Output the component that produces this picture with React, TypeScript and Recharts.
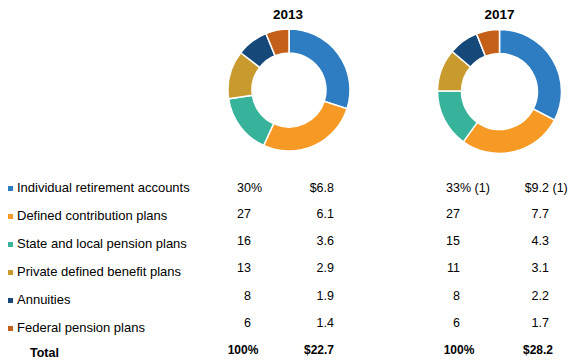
import { Pie, PieChart, Cell } from 'recharts'

const categories = [
  'Individual retirement accounts',
  'Defined contribution plans',
  'State and local pension plans',
  'Private defined benefit plans',
  'Annuities',
  'Federal pension plans',
]
const colors = ['#2E7DC2', '#F79A25', '#37B39B', '#C99A2E', '#16497A', '#C5601A']

const pct2013 = [30, 27, 16, 13, 8, 6]
const usd2013 = [6.8, 6.1, 3.6, 2.9, 1.9, 1.4]
const pct2017 = [33, 27, 15, 11, 8, 6]
const usd2017 = [9.2, 7.7, 4.3, 3.1, 2.2, 1.7]
const notes2017 = [' (1)', '', '', '', '', '']
const totals = { pct: '100%', usd2013: '$22.7', usd2017: '$28.2' }

const data2013 = categories.map((name, i) => ({ name, value: usd2013[i] }))
const data2017 = categories.map((name, i) => ({ name, value: usd2017[i] }))

// baselines for the table rows
const labelY = [192, 220, 248, 276, 304, 332]
const numY = [192, 218, 245, 272, 300, 327]
const font = 'Arial, "Liberation Sans", sans-serif'

const Table = () => (
  <g fontFamily={font} fill="#000">
    {categories.map((c, i) => (
      <g key={c}>
        <rect x={8} y={labelY[i] - 6} width={5} height={5} fill={colors[i]} />
        <text x={17} y={labelY[i]} fontSize={13}>{c}</text>
        <text x={251} y={numY[i]} fontSize={12.5} textAnchor="end">{pct2013[i]}</text>
        {i === 0 && <text x={251} y={numY[i]} fontSize={12.5}>%</text>}
        <text x={334} y={numY[i]} fontSize={12.5} textAnchor="end">
          {(i === 0 ? '$' : '') + usd2013[i].toFixed(1)}
        </text>
        <text x={460} y={numY[i]} fontSize={12.5} textAnchor="end">{pct2017[i]}</text>
        {i === 0 && <text x={460} y={numY[i]} fontSize={12.5}>{'%' + notes2017[i]}</text>}
        <text x={549} y={numY[i]} fontSize={12.5} textAnchor="end">
          {(i === 0 ? '$' : '') + usd2017[i].toFixed(1)}
        </text>
        {notes2017[i] && (
          <text x={549} y={numY[i]} fontSize={12.5} style={{ whiteSpace: 'pre' }}>{notes2017[i]}</text>
        )}
      </g>
    ))}
    <g fontWeight="bold">
      <text x={30} y={357} fontSize={12.5}>Total</text>
      <text x={243} y={354} fontSize={12} textAnchor="middle">{totals.pct}</text>
      <text x={334} y={354} fontSize={12} textAnchor="end">{totals.usd2013}</text>
      <text x={459} y={354} fontSize={12} textAnchor="middle">{totals.pct}</text>
      <text x={553} y={354} fontSize={12} textAnchor="end">{totals.usd2017}</text>
    </g>
    <g fontWeight="bold" fontSize={13.5}>
      <text x={288} y={19} textAnchor="middle">2013</text>
      <text x={499.5} y={19} textAnchor="middle">2017</text>
    </g>
  </g>
)

export default function App() {
  return (
    <div style={{ width: 575, height: 363, background: '#fff' }}>
      <style>{'body{margin:0}'}</style>
      <PieChart width={575} height={363} margin={{ top: 0, right: 0, bottom: 0, left: 0 }}>
        <Pie
          data={data2013}
          dataKey="value"
          cx={289}
          cy={90}
          innerRadius={37}
          outerRadius={61}
          startAngle={90}
          endAngle={-270}
          stroke="#fff"
          strokeWidth={1.5}
          isAnimationActive={false}
        >
          {data2013.map((d, i) => (
            <Cell key={d.name} fill={colors[i]} />
          ))}
        </Pie>
        <Pie
          data={data2017}
          dataKey="value"
          cx={499.5}
          cy={91.5}
          innerRadius={38}
          outerRadius={62}
          startAngle={90}
          endAngle={-270}
          stroke="#fff"
          strokeWidth={1.5}
          isAnimationActive={false}
        >
          {data2017.map((d, i) => (
            <Cell key={d.name} fill={colors[i]} />
          ))}
        </Pie>
        <Table />
      </PieChart>
    </div>
  )
}
